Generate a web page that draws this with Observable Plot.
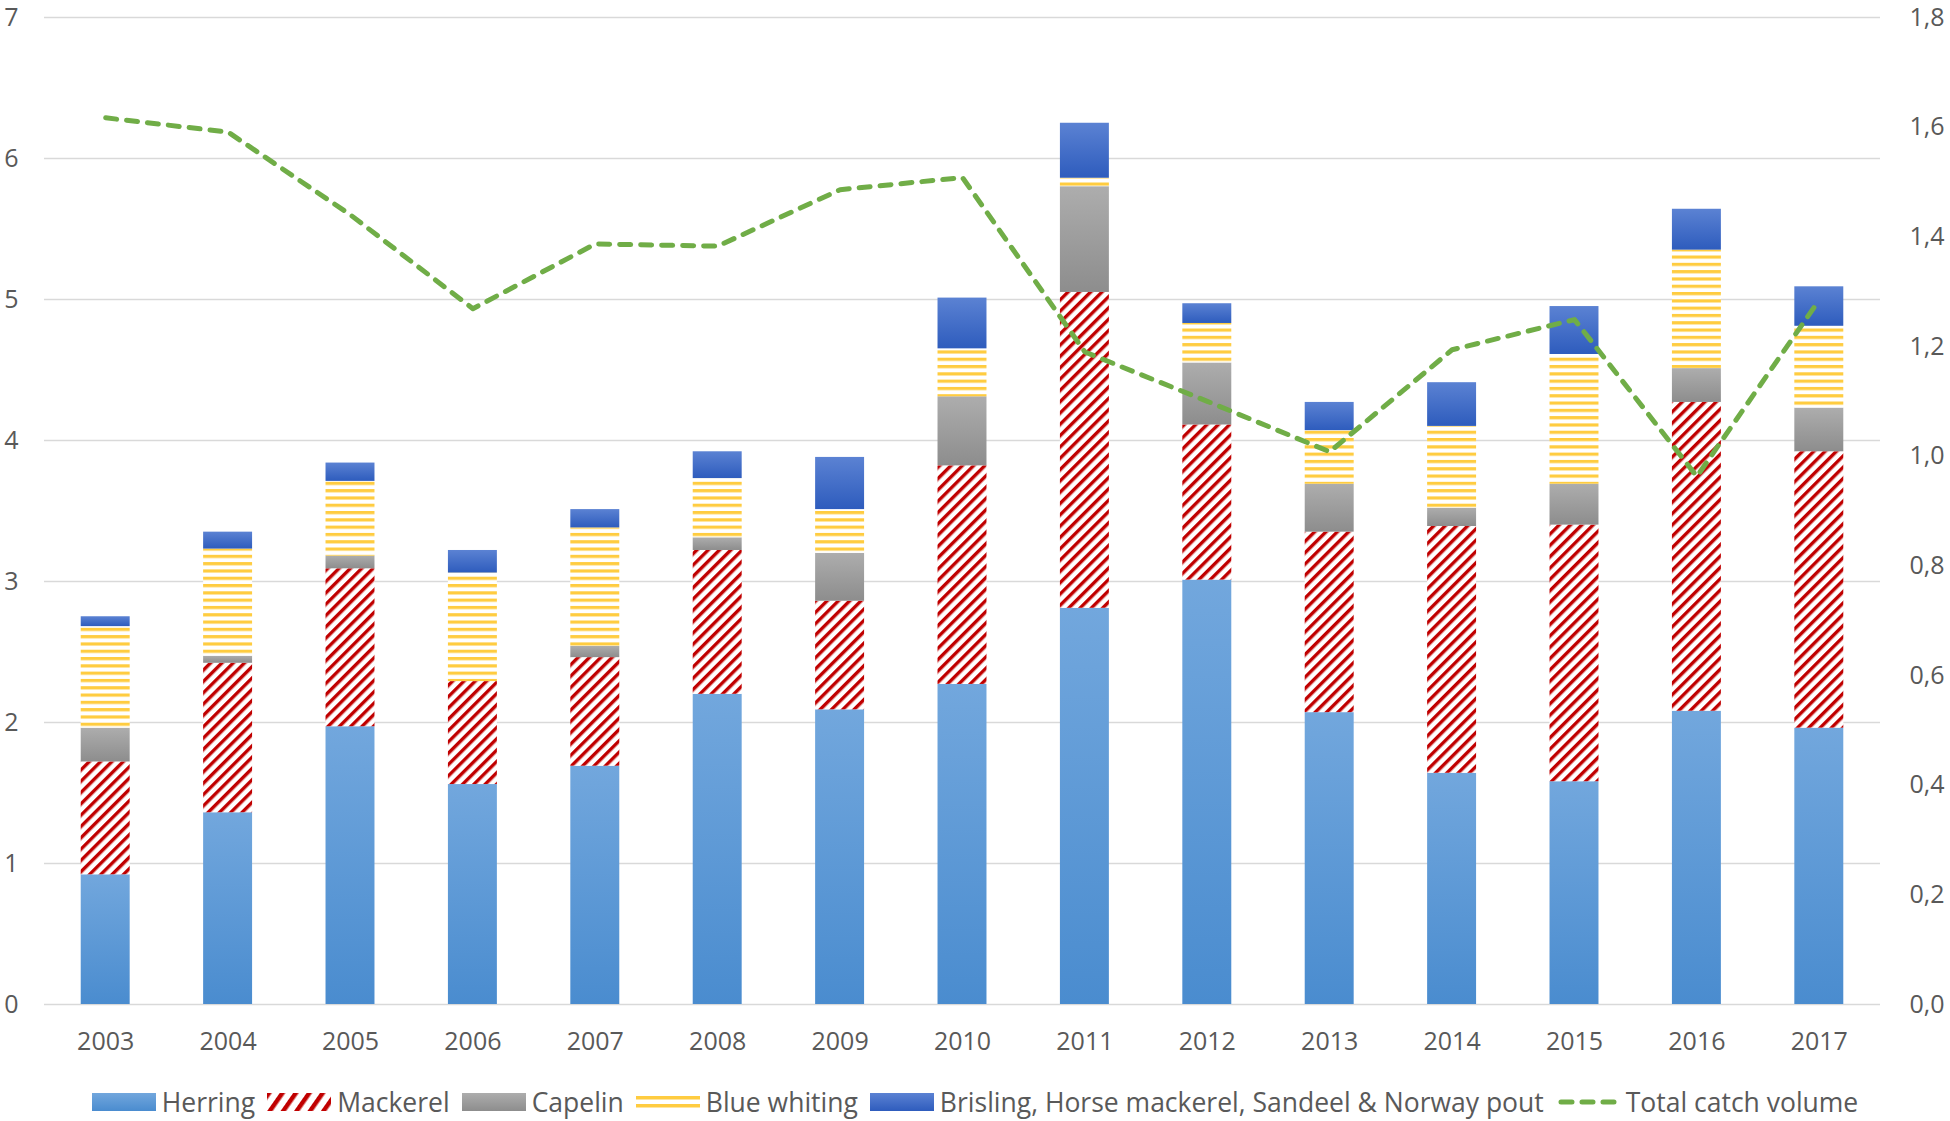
<!DOCTYPE html>
<html>
<head>
<meta charset="utf-8">
<script src="https://cdn.jsdelivr.net/npm/d3@7"></script>
<script src="https://cdn.jsdelivr.net/npm/@observablehq/plot@0.6"></script>
<style>
  html, body { margin: 0; padding: 0; background: #fff; }
  #chart svg { display: block; }
  #legend { display: flex; justify-content: center; align-items: center; height: 40px;
    font-family: "Open Sans", sans-serif; font-size: 26.5px; color: #595959; white-space: nowrap; }
  #legend .item { display: flex; align-items: center; margin: 0 6px; }
  #legend svg { display: block; margin-right: 6px; }
</style>
</head>
<body>
<div id="chart"></div>
<div id="legend"></div>
<script>
// ---- data ----
const years = ["2003","2004","2005","2006","2007","2008","2009","2010","2011","2012","2013","2014","2015","2016","2017"];
const seriesNames = ["Herring","Mackerel","Capelin","Blue whiting","Brisling, Horse mackerel, Sandeel & Norway pout"];
const herring     = [0.92,1.36,1.97,1.56,1.69,2.20,2.09,2.27,2.81,3.01,2.07,1.64,1.58,2.08,1.96];
const mackerel    = [0.80,1.06,1.12,0.73,0.77,1.02,0.77,1.55,2.24,1.10,1.28,1.75,1.82,2.19,1.96];
const capelin     = [0.24,0.05,0.09,0.00,0.08,0.09,0.34,0.49,0.75,0.44,0.34,0.13,0.29,0.24,0.31];
const blueWhiting = [0.72,0.76,0.53,0.77,0.84,0.42,0.31,0.34,0.06,0.28,0.38,0.58,0.92,0.84,0.58];
const other       = [0.07,0.12,0.13,0.16,0.13,0.19,0.37,0.36,0.39,0.14,0.20,0.31,0.34,0.29,0.28];
const totalCatch  = [1.617,1.591,1.44,1.269,1.387,1.383,1.486,1.508,1.19,1.10,1.008,1.194,1.249,0.963,1.285];
const lineName = "Total catch volume";
const leftTicks = [0,1,2,3,4,5,6,7];
const leftLabels = ["0","1","2","3","4","5","6","7"];
const rightTicks = [0,0.2,0.4,0.6,0.8,1.0,1.2,1.4,1.6,1.8];
const rightLabels = ["0,0","0,2","0,4","0,6","0,8","1,0","1,2","1,4","1,6","1,8"];

// ---- tables built from the arrays ----
const seriesValues = [herring, mackerel, capelin, blueWhiting, other];
const bars = [];
years.forEach((y, i) => seriesNames.forEach((s, j) => bars.push({year: y, series: s, value: seriesValues[j][i]})));
const lineData = years.map((y, i) => ({year: y, total: totalCatch[i]}));
const k = 7 / 1.8; // right axis -> left axis units

const fills = ["url(#g-herring)","url(#p-mackerel)","url(#g-capelin)","url(#p-bw)","url(#g-other)"];

const chart = Plot.plot({
  width: 1950,
  height: 1082,
  marginTop: 17,
  marginBottom: 78,
  marginLeft: 44,
  marginRight: 70,
  style: {fontFamily: "Open Sans, sans-serif", fontSize: "25px", color: "#595959", background: "#fff"},
  x: {domain: years, paddingInner: 0.6, paddingOuter: 0.3, round: false, label: null},
  y: {domain: [0, 7], label: null},
  color: {type: "ordinal", domain: seriesNames, range: fills},
  marks: [
    Plot.gridY(leftTicks, {stroke: "#d9d9d9", strokeOpacity: 1, strokeWidth: 1.5}),
    Plot.barY(bars, Plot.stackY({x: "year", y: "value", fill: "series", order: seriesNames})),
    Plot.line(lineData, {x: "year", y: d => d.total * k, stroke: "#70ad47", strokeWidth: 5,
      strokeDasharray: "11,10", strokeLinecap: "round", strokeLinejoin: "round"}),
    Plot.axisX({tickSize: 0, tickPadding: 28, fill: "#595959", label: null}),
    Plot.axisY(leftTicks, {anchor: "left", tickSize: 0, tickPadding: 26, fill: "#595959", label: null,
      tickFormat: d => leftLabels[leftTicks.indexOf(d)]}),
    Plot.axisY(rightTicks.map(t => t * k), {anchor: "right", tickSize: 0, tickPadding: 29, fill: "#595959", label: null,
      tickFormat: d => rightLabels[rightTicks.findIndex(t => Math.abs(t * k - d) < 1e-6)]})
  ]
});

// ---- gradient & pattern definitions ----
const svg = d3.select(chart);
const defs = svg.insert("defs", ":first-child");
function grad(id, c0, c1) {
  const g = defs.append("linearGradient").attr("id", id).attr("x1", 0).attr("y1", 0).attr("x2", 0).attr("y2", 1);
  g.append("stop").attr("offset", "0%").attr("stop-color", c0);
  g.append("stop").attr("offset", "100%").attr("stop-color", c1);
}
grad("g-herring", "#72a7dd", "#4a8ccf");
grad("g-capelin", "#adadad", "#8d8d8d");
grad("g-other", "#5b82d3", "#2e5cbd");
const pm = defs.append("pattern").attr("id", "p-mackerel").attr("patternUnits", "userSpaceOnUse")
  .attr("width", 8).attr("height", 8).attr("patternTransform", "rotate(45)");
pm.append("rect").attr("width", 8).attr("height", 8).attr("fill", "#fff");
pm.append("rect").attr("width", 3.4).attr("height", 8).attr("fill", "#c00000");
const pb = defs.append("pattern").attr("id", "p-bw").attr("patternUnits", "userSpaceOnUse")
  .attr("width", 8).attr("height", 7.3);
pb.append("rect").attr("width", 8).attr("height", 7.3).attr("fill", "#fff");
pb.append("rect").attr("width", 8).attr("height", 3.2).attr("fill", "#ffcc40");
const pml = defs.append("pattern").attr("id", "p-mackerel-leg").attr("patternUnits", "userSpaceOnUse")
  .attr("width", 11).attr("height", 11).attr("patternTransform", "rotate(35)");
pml.append("rect").attr("width", 11).attr("height", 11).attr("fill", "#fff");
pml.append("rect").attr("width", 4.5).attr("height", 11).attr("fill", "#c00000");

document.getElementById("chart").appendChild(chart);

// ---- legend ----
const legend = d3.select("#legend");
function item(drawSwatch, label) {
  const it = legend.append("div").attr("class", "item");
  const s = it.append("svg").attr("width", 64).attr("height", 20);
  drawSwatch(s);
  it.append("span").text(label);
}
item(s => s.append("rect").attr("y", 1).attr("width", 64).attr("height", 18).attr("fill", "url(#g-herring)"), seriesNames[0]);
item(s => s.append("rect").attr("y", 1).attr("width", 64).attr("height", 18).attr("fill", "url(#p-mackerel-leg)"), seriesNames[1]);
item(s => s.append("rect").attr("y", 1).attr("width", 64).attr("height", 18).attr("fill", "url(#g-capelin)"), seriesNames[2]);
item(s => {
  s.append("rect").attr("x", 0).attr("y", 4).attr("width", 64).attr("height", 3.5).attr("fill", "#ffcc40");
  s.append("rect").attr("x", 0).attr("y", 12).attr("width", 64).attr("height", 3.5).attr("fill", "#ffcc40");
}, seriesNames[3]);
item(s => s.append("rect").attr("y", 1).attr("width", 64).attr("height", 18).attr("fill", "url(#g-other)"), seriesNames[4]);
item(s => s.append("line").attr("x1", 5).attr("x2", 63).attr("y1", 10).attr("y2", 10)
  .attr("stroke", "#70ad47").attr("stroke-width", 5).attr("stroke-dasharray", "11,10").attr("stroke-linecap", "round"), lineName);
</script>
</body>
</html>
